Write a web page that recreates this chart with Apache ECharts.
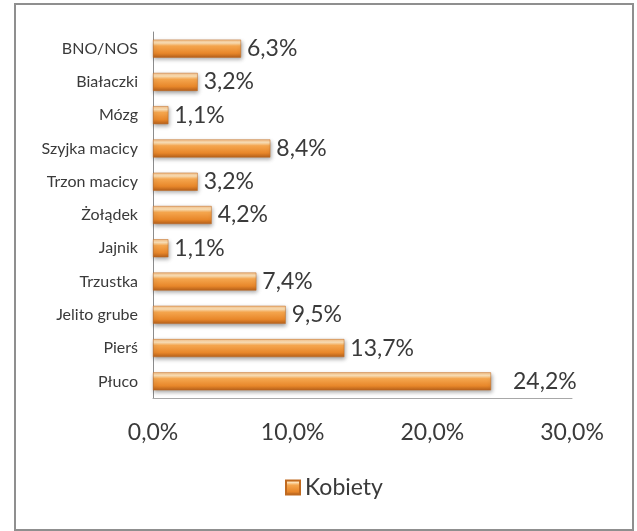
<!DOCTYPE html>
<html>
<head>
<meta charset="utf-8">
<script src="https://cdn.jsdelivr.net/npm/echarts@6/dist/echarts.min.js"></script>
<style>
  html, body { margin: 0; padding: 0; background: #fff; }
  #chart { width: 637px; height: 531px; }
</style>
</head>
<body>
<div id="chart"></div>
<script>
// Cancer incidence shares among women (%)
const categories = ['Płuco', 'Pierś', 'Jelito grube', 'Trzustka', 'Jajnik', 'Żołądek',
                    'Trzon macicy', 'Szyjka macicy', 'Mózg', 'Białaczki', 'BNO/NOS'];
const kobiety = [24.2, 13.7, 9.5, 7.4, 1.1, 4.2, 3.2, 8.4, 1.1, 3.2, 6.3];
const xTicks = [0, 10, 20, 30];
const seriesName = 'Kobiety';

const fmt = v => v.toFixed(1).replace('.', ',') + '%';
const font = 'Lato, "Open Sans", sans-serif';
const textColor = '#3a3a3a';

const barGradient = new echarts.graphic.LinearGradient(0, 0, 0, 1, [
  { offset: 0, color: '#f7c088' },
  { offset: 0.18, color: '#fde2b8' },
  { offset: 0.35, color: '#f5a64e' },
  { offset: 0.75, color: '#e8872a' },
  { offset: 1, color: '#b5601b' }
]);

const chart = echarts.init(document.getElementById('chart'), null, { renderer: 'canvas' });
chart.setOption({
  animation: false,
  backgroundColor: '#ffffff',
  graphic: [{
    type: 'rect',
    shape: { x: 15, y: 4, width: 618, height: 526 },
    style: { fill: 'none', stroke: '#8f8f8f', lineWidth: 2 },
    silent: true,
    z: -1
  }],
  grid: { left: 153, right: 65, top: 32, bottom: 133, containLabel: false },
  legend: {
    data: [seriesName],
    bottom: 27,
    left: 280,
    itemWidth: 14,
    itemHeight: 14,
    itemGap: 6,
    icon: 'rect',
    textStyle: { fontFamily: font, fontSize: 23, color: textColor }
  },
  xAxis: {
    type: 'value',
    min: xTicks[0],
    max: xTicks[xTicks.length - 1],
    interval: 10,
    axisLine: { show: true, lineStyle: { color: '#a8a8a8', width: 1 } },
    axisTick: { show: false },
    splitLine: { show: false },
    axisLabel: {
      margin: 23,
      formatter: v => fmt(v),
      fontFamily: font, fontSize: 23, color: textColor
    }
  },
  yAxis: {
    type: 'category',
    data: categories,
    axisLine: { show: true, lineStyle: { color: '#8c8c8c', width: 1 } },
    axisTick: { show: false },
    axisLabel: { margin: 15, fontFamily: font, fontSize: 16, color: textColor }
  },
  series: [{
    name: seriesName,
    type: 'bar',
    data: kobiety.map((v, i) => ({
      value: v,
      label: i === 0 ? { distance: 22 } : undefined
    })),
    barWidth: 18,
    itemStyle: {
      color: barGradient,
      borderColor: '#c06a20',
      borderWidth: 0.5,
      shadowColor: 'rgba(0,0,0,0.35)',
      shadowBlur: 4,
      shadowOffsetX: 1,
      shadowOffsetY: 2
    },
    label: {
      show: true,
      position: 'right',
      distance: 6,
      formatter: p => fmt(p.value),
      fontFamily: font, fontSize: 23, color: textColor
    }
  }]
});
</script>
</body>
</html>
